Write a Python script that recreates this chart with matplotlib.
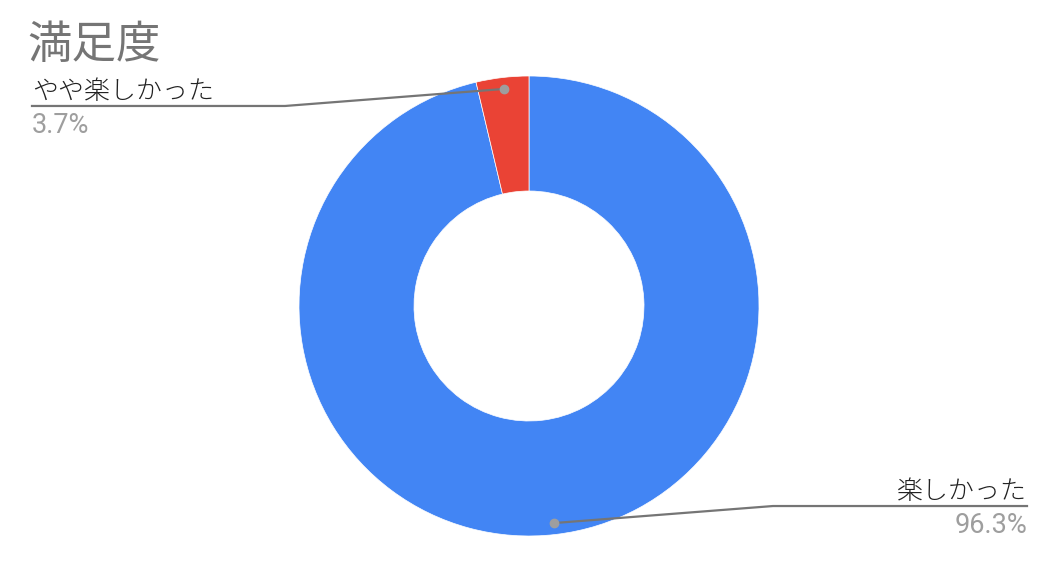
import numpy as np
import matplotlib
matplotlib.use("Agg")
import matplotlib.pyplot as plt

title = "満足度"
labels = ["楽しかった", "やや楽しかった"]
values = [96.3, 3.7]
colors = ["#4285f4", "#ea4335"]

W, H = 1052, 563
CX, CY, R = 529, 306, 230

plt.rcParams['font.family'] = ['Noto Sans CJK JP', 'DejaVu Sans']

fig = plt.figure(figsize=(W / 100, H / 100), dpi=100)
ax = fig.add_axes([(CX - R) / W, (H - CY - R) / H, 2 * R / W, 2 * R / H])
ax.pie(values, colors=colors, startangle=90, counterclock=False,
       radius=1, wedgeprops=dict(width=0.5, edgecolor="white", linewidth=0.5))
ax.set_xlim(-1, 1)
ax.set_ylim(-1, 1)
ax.axis("off")


def px(x, y):
    return x / W, 1 - y / H


fig.text(*px(27, 58), title, fontsize=32, color="#757575", va="baseline", ha="left")

# leader lines, placed from slice mid-angles
total = sum(values)
start = 90.0
setups = [
    # elbow x, end x, label anchor
    (773, 1027, "right"),
    (285, 32, "left"),
]
for (val, lab), (ex, endx, ha) in zip(zip(values, labels), setups):
    mid = start - val / total * 360 / 2
    start -= val / total * 360
    a = np.deg2rad(mid)
    dx = CX + 0.95 * R * np.cos(a)
    dy = CY - 0.95 * R * np.sin(a)
    ey = dy - 17 if ha == "right" else dy + 17
    xs, ys = zip(px(dx, dy), px(ex, ey), px(endx, ey))
    fig.add_artist(plt.Line2D(xs, ys, color="#757575", lw=1.6, transform=fig.transFigure))
    fig.add_artist(plt.Line2D([xs[0]], [ys[0]], marker="o", ms=6, color="#9e9e9e",
                              lw=0, transform=fig.transFigure))
    fig.text(*px(endx, ey - 7), lab, fontsize=18.7, color="#222222", ha=ha, va="baseline",
             fontweight="light")
    fig.text(*px(endx, ey + 6), f"{val}%", fontsize=19.5, color="#9e9e9e", ha=ha, va="top",
             family=["Roboto", "DejaVu Sans"])

fig.savefig("out.png", dpi=100)
